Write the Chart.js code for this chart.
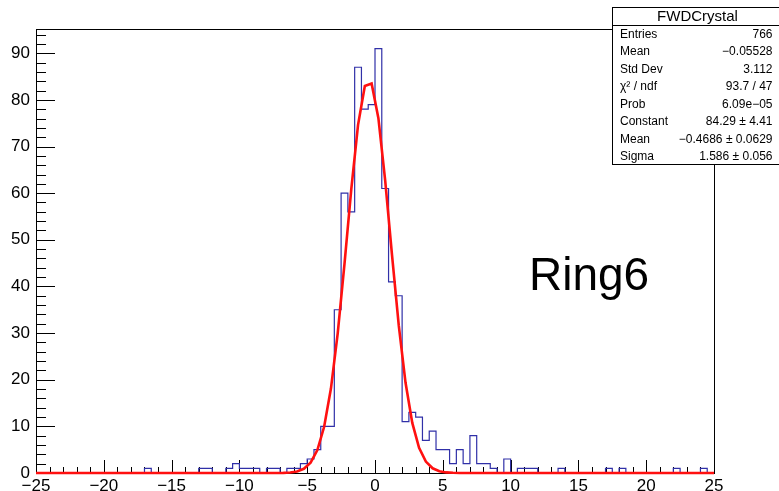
<!DOCTYPE html>
<html>
<head>
<meta charset="utf-8">
<title>FWDCrystal Ring6</title>
<script src="https://cdn.jsdelivr.net/npm/chart.js@4/dist/chart.umd.min.js"></script>
<style>
  html, body { margin: 0; padding: 0; background: #ffffff; }
  #wrap { width: 779px; height: 491px; }
</style>
</head>
<body>
<div id="wrap"><canvas id="c" width="779" height="491"></canvas></div>
<script>
// Histogram binning: 100 bins of width 0.5 from -25 to 25
const binLow = -25;
const binHigh = 25;
const binWidth = 0.5;

// Bin contents, ten bins per row
const counts = [
  0, 0, 0, 0, 0, 0, 0, 0, 0, 0,
  0, 0, 0, 0, 0, 0, 1, 0, 0, 0,
  0, 0, 0, 0, 1, 1, 0, 0, 1, 2,
  1, 1, 1, 0, 1, 1, 0, 1, 1, 2,
  3, 5, 10, 10, 35, 60, 56, 87, 78, 79,
  91, 61, 41, 38, 11, 13, 12, 7, 9, 5,
  5, 2, 5, 2, 8, 2, 2, 1, 0, 3,
  0, 1, 1, 1, 0, 0, 0, 1, 0, 0,
  0, 0, 0, 0, 1, 0, 1, 0, 0, 0,
  0, 0, 0, 0, 1, 0, 0, 0, 1, 0
];

// Gaussian fit parameters (as printed in the stats box)
const fitConstant = 84.29;
const fitMean = -0.4686;
const fitSigma = 1.586;
const fitNpx = 100;   // the fit function is evaluated at the centres of 100 sub-bins

// Axis settings
const xTickStep = 5;
const xMinorStep = 1;
const yTickStep = 10;
const yMinorStep = 2;
const yMax = 95.2;

// Stats box rows
const statsTitle = 'FWDCrystal';
const statsLabels = ['Entries', 'Mean', 'Std Dev', '\u03C7\u00B2 / ndf', 'Prob', 'Constant', 'Mean', 'Sigma'];
const statsValues = ['766', '\u22120.05528', '3.112', '93.7 / 47', '6.09e\u221205',
                     '84.29 \u00B1 4.41', '\u22120.4686 \u00B1 0.0629', '1.586 \u00B1 0.056'];
const padLabel = 'Ring6';

const FONT = '"Liberation Sans", Arial, Helvetica, sans-serif';
const minus = v => (v < 0 ? '\u2212' + Math.abs(v) : String(v));

// Step outline: one point per lower bin edge plus the upper edge
const histPoints = counts.map((c, i) => ({ x: binLow + i * binWidth, y: c }));
histPoints.push({ x: binHigh, y: counts[counts.length - 1] });

// Fit curve from the fitted parameters
const gaus = x => {
  const t = (x - fitMean) / fitSigma;
  return fitConstant * Math.exp(-0.5 * t * t);
};
const fitDx = (binHigh - binLow) / fitNpx;
const fitPoints = [{ x: binLow, y: gaus(binLow) }];
for (let i = 0; i < fitNpx; i++) {
  const x = binLow + (i + 0.5) * fitDx;
  fitPoints.push({ x: x, y: gaus(x) });
}
fitPoints.push({ x: binHigh, y: gaus(binHigh) });

// Frame and inward-pointing tick marks
const framePlugin = {
  id: 'frame',
  beforeDatasetsDraw(chart) {
    const { ctx, chartArea: a, scales } = chart;
    ctx.save();
    ctx.strokeStyle = '#000000';
    ctx.lineWidth = 1;
    ctx.strokeRect(Math.round(a.left) + 0.5, Math.round(a.top) + 0.5,
                   Math.round(a.right - a.left), Math.round(a.bottom - a.top));
    ctx.beginPath();
    const ys = scales.y;
    for (let v = 0; v <= yMax + 1e-9; v += yMinorStep) {
      const p = Math.round(ys.getPixelForValue(v)) + 0.5;
      const len = (Math.round(v) % yTickStep === 0) ? 19 : 10;
      ctx.moveTo(a.left, p);
      ctx.lineTo(a.left + len, p);
    }
    const xs = scales.x;
    for (let v = binLow; v <= binHigh + 1e-9; v += xMinorStep) {
      const p = Math.round(xs.getPixelForValue(v)) + 0.5;
      const len = (Math.round(v) % xTickStep === 0) ? 13 : 6;
      ctx.moveTo(p, a.bottom);
      ctx.lineTo(p, a.bottom - len);
    }
    ctx.stroke();
    ctx.restore();
  },
  afterDraw(chart) {
    const { ctx } = chart;
    ctx.save();
    // pad label
    ctx.fillStyle = '#000000';
    ctx.font = '46px ' + FONT;
    ctx.textAlign = 'left';
    ctx.textBaseline = 'alphabetic';
    ctx.fillText(padLabel, 529, 290);

    // stats box
    const bx = 612.5, by = 7.5, bw = 175, bh = 157;
    ctx.fillStyle = '#ffffff';
    ctx.fillRect(bx, by, bw, bh);
    ctx.strokeStyle = '#000000';
    ctx.lineWidth = 1;
    ctx.strokeRect(bx, by, bw, bh);
    ctx.beginPath();
    ctx.moveTo(bx, 25.5);
    ctx.lineTo(bx + bw, 25.5);
    ctx.stroke();
    ctx.fillStyle = '#000000';
    ctx.textBaseline = 'middle';
    ctx.textAlign = 'center';
    ctx.font = '15px ' + FONT;
    ctx.fillText(statsTitle, 697.5, 16.5);
    ctx.font = '12px ' + FONT;
    statsLabels.forEach((lab, i) => {
      const yy = 34.5 + i * 17.5;
      ctx.textAlign = 'left';
      ctx.fillText(lab, 620, yy);
      ctx.textAlign = 'right';
      ctx.fillText(statsValues[i], 772.5, yy);
    });
    ctx.restore();
  }
};

new Chart(document.getElementById('c'), {
  type: 'line',
  data: {
    datasets: [
      {
        label: 'gaus',
        data: fitPoints,
        borderColor: '#ff1010',
        borderWidth: 2.6,
        pointRadius: 0,
        fill: false,
        tension: 0,
        clip: false,
        order: 0
      },
      {
        label: 'FWDCrystal',
        data: histPoints,
        stepped: 'before',
        borderColor: '#3030a8',
        borderWidth: 1.2,
        pointRadius: 0,
        fill: false,
        clip: false,
        order: 1
      }
    ]
  },
  options: {
    responsive: false,
    devicePixelRatio: 1,
    animation: false,
    layout: { padding: { top: 29, right: 65, left: 0, bottom: 0 } },
    plugins: { legend: { display: false }, tooltip: { enabled: false }, title: { display: false } },
    scales: {
      x: {
        type: 'linear',
        min: binLow,
        max: binHigh,
        grid: { display: false, drawTicks: false },
        border: { display: false },
        ticks: {
          stepSize: xTickStep,
          autoSkip: false,
          maxRotation: 0,
          padding: 3,
          color: '#000000',
          font: { family: FONT, size: 17 },
          callback: v => minus(v)
        },
        afterFit: s => { s.height = 18; }
      },
      y: {
        type: 'linear',
        min: 0,
        max: yMax,
        grid: { display: false, drawTicks: false },
        border: { display: false },
        ticks: {
          stepSize: yTickStep,
          includeBounds: false,
          autoSkip: false,
          padding: 6,
          color: '#000000',
          font: { family: FONT, size: 17 },
          callback: v => String(v)
        },
        afterFit: s => { s.width = 36; }
      }
    }
  },
  plugins: [framePlugin]
});
</script>
</body>
</html>
